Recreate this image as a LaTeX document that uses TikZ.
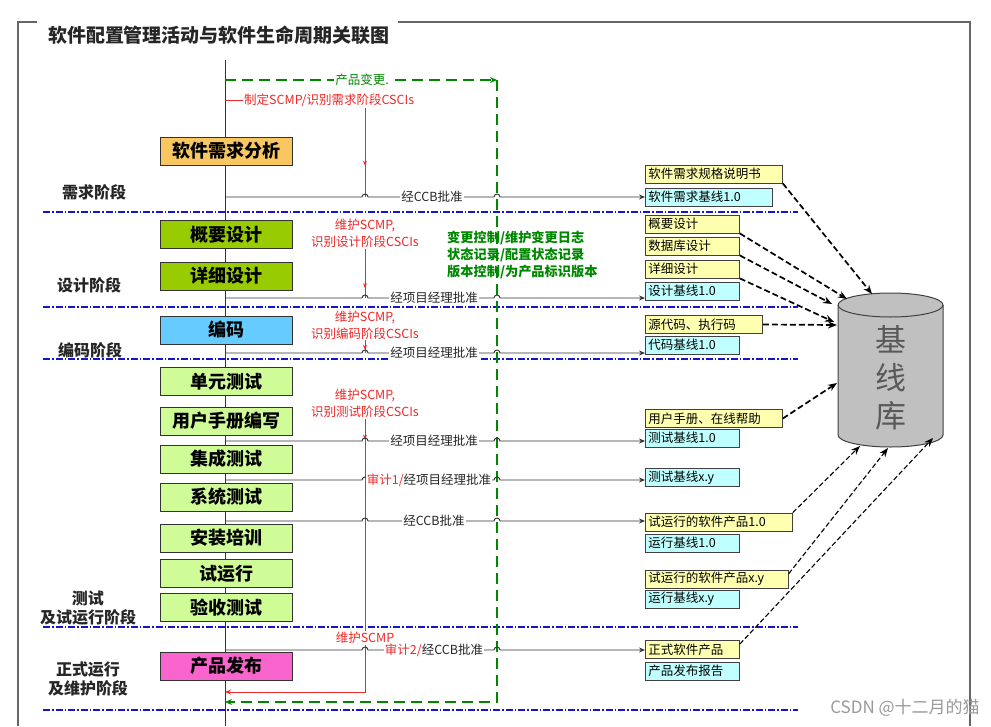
\documentclass[tikz,border=0pt]{standalone}
\usepackage{fontspec}
\setmainfont{Noto Sans CJK SC}
\usetikzlibrary{arrows.meta,decorations.markings}

\definecolor{reqorange}{RGB}{249,199,98}
\definecolor{desgreen}{RGB}{153,204,0}
\definecolor{codeblue}{RGB}{102,204,255}
\definecolor{testgreen}{RGB}{208,252,152}
\definecolor{relpink}{RGB}{250,100,205}
\definecolor{docyellow}{RGB}{255,255,176}
\definecolor{blcyan}{RGB}{192,255,255}
\definecolor{scmred}{RGB}{240,40,40}
\definecolor{cmgreen}{RGB}{0,135,0}
\definecolor{stageblue}{RGB}{20,20,200}
\definecolor{dbgray}{RGB}{192,192,192}

\tikzset{
    frame/.style={draw=black!60, line width=1.5pt},
    mainline/.style={draw=black!80, line width=0.9pt},
    stageline/.style={draw=stageblue, line width=1.5pt, dash pattern=on 7pt off 2pt on 1.5pt off 2pt},
    cmline/.style={draw=cmgreen, line width=2.2pt, dash pattern=on 11pt off 6pt},
    scmline/.style={draw=scmred, line width=0.9pt},
    flow/.style={draw=black!80, line width=0.9pt, -{Stealth[length=6pt,width=5pt]}},
    midarrow/.style={postaction={decorate}, decoration={markings, mark=at position #1 with {\arrow{Stealth[length=5pt,width=4pt]}}}},
    phase/.style={draw=black!80, line width=1pt, minimum width=132pt, minimum height=28pt, inner sep=0pt,
        font=\fontsize{18}{20}\selectfont\bfseries},
    artifact/.style={draw=black!75, line width=0.8pt, minimum height=18pt, inner xsep=3pt, inner ysep=0pt,
        anchor=west, text width=#1, font=\fontsize{12.5}{14}\selectfont},
    stage/.style={align=center, inner sep=0pt, text=black!85, font=\fontsize{16}{19}\selectfont\bfseries},
    approval/.style={fill=white, inner sep=1pt, text=black!85, font=\fontsize{12.5}{14}\selectfont},
    scmtext/.style={fill=white, inner sep=1pt, align=center, text=scmred, font=\fontsize{12.5}{17}\selectfont},
    todb/.style={draw=black, line width=1.7pt, dash pattern=on 6pt off 3pt, -{Stealth[length=9pt,width=7pt]}},
    todbthin/.style={todb, line width=1.1pt, dash pattern=on 5pt off 2.5pt}
}

\newcommand\approveline[2]{%
    \draw[flow] (#1) -- (#1 -| rhop) arc[start angle=180, end angle=0, radius=3pt]
        -- (#1 -| ghop) arc[start angle=180, end angle=0, radius=3pt] -- (#2.west |- #1);}

\begin{document}
\begin{tikzpicture}[x=1pt, y=-1pt]
    \useasboundingbox (0,0) rectangle (991,726);

    \draw[frame] (37,22) -- (18,22) -- (18,726);
    \draw[frame] (398,22) -- (970,22) -- (970,726);
    \node[text=black!85, font=\fontsize{19}{20}\selectfont\bfseries] (title) at (219,35) {软件配置管理活动与软件生命周期关联图};

    \foreach \y in {212,307,359,627,710}
        \draw[stageline] (43,\y) -- (798,\y);

    \coordinate (top) at (225,60);
    \coordinate (bottom) at (225,726);
    \draw[mainline] (top) -- (bottom);

    \coordinate (rvert) at (365,0);
    \coordinate (rhop) at (362,0);
    \coordinate (ghop) at (494,0);
    \coordinate (a1) at (225,197);
    \coordinate (a2) at (225,298);
    \coordinate (a3) at (225,353);
    \coordinate (a4) at (225,441);
    \coordinate (a5) at (225,480);
    \coordinate (a6) at (225,521);
    \coordinate (a7) at (225,650);

    \coordinate (g0) at (225,80);
    \coordinate (g1) at (497,80);
    \coordinate (g2) at (497,702);
    \coordinate (g3) at (225,702);
    \draw[cmline, -{Stealth[length=7pt,width=6pt]}] (g0) -- (g1);
    \draw[cmline, -{Stealth[length=7pt,width=6pt]}] (g1) -- (g2) -- (g3);
    \node[fill=white, inner sep=1pt, text=cmgreen, font=\fontsize{12.5}{14}\selectfont] (change) at (362,80) {产品变更.};

    \coordinate (r0) at (225,100);
    \node[scmtext, anchor=west] (plan) at (243,100) {制定SCMP/识别需求阶段CSCIs};
    \draw[scmline] (r0) -- (plan.west);
    \draw[scmline, midarrow=0.65] (plan.south -| rvert) -- (a1 -| rvert);
    \node[scmtext] (keep1) at (365,233.5) {维护SCMP,\\识别设计阶段CSCIs};
    \draw[scmline, midarrow=0.8] (keep1.south) -- (a2 -| rvert);
    \node[scmtext] (keep2) at (365,325) {维护SCMP,\\识别编码阶段CSCIs};
    \draw[scmline, midarrow=0.75] (keep2.south) -- (a3 -| rvert);
    \node[scmtext] (keep3) at (365,403.5) {维护SCMP,\\识别测试阶段CSCIs};
    \coordinate (rcorner) at (365,692);
    \coordinate (rend) at (225,692);
    \draw[scmline, midarrow=0.05, -{Stealth[length=6pt,width=5pt]}] (keep3.south) -- (rcorner) -- (rend);
    \node[scmtext] (keep4) at (365,638) {维护SCMP};

    \node[phase, fill=reqorange] (req) at (226,151) {软件需求分析};
    \node[phase, fill=desgreen] (hld) at (226,234.5) {概要设计};
    \node[phase, fill=desgreen] (dd) at (226,276) {详细设计};
    \node[phase, fill=codeblue] (code) at (226,330) {编码};
    \node[phase, fill=testgreen] (ut) at (226,381.5) {单元测试};
    \node[phase, fill=testgreen] (manual) at (226,421) {用户手册编写};
    \node[phase, fill=testgreen] (it) at (226,459) {集成测试};
    \node[phase, fill=testgreen] (st) at (226,497) {系统测试};
    \node[phase, fill=testgreen] (train) at (226,538) {安装培训};
    \node[phase, fill=testgreen] (trial) at (226,573.5) {试运行};
    \node[phase, fill=testgreen] (accept) at (226,607.5) {验收测试};
    \node[phase, fill=relpink] (release) at (226,666) {产品发布};

    \node[stage] (reqstage) at (94,192) {需求阶段};
    \node[stage] (desstage) at (89,285) {设计阶段};
    \node[stage] (codestage) at (90,350) {编码阶段};
    \node[stage] (teststage) at (88,608) {测试\\及试运行阶段};
    \node[stage] (opstage) at (88,678.5) {正式运行\\及维护阶段};

    \node[artifact=131pt, fill=docyellow] (spec) at (645,174) {软件需求规格说明书};
    \node[artifact=121pt, fill=blcyan] (reqbl) at (645,197) {软件需求基线1.0};
    \node[artifact=88pt, fill=docyellow] (hldoc) at (645,224) {概要设计};
    \node[artifact=88pt, fill=docyellow] (dbdoc) at (645,246) {数据库设计};
    \node[artifact=88pt, fill=docyellow] (ddoc) at (645,269) {详细设计};
    \node[artifact=88pt, fill=blcyan] (desbl) at (645,291) {设计基线1.0};
    \node[artifact=111pt, fill=docyellow] (src) at (645,324.5) {源代码、执行码};
    \node[artifact=88pt, fill=blcyan] (codebl) at (645,345) {代码基线1.0};
    \node[artifact=131pt, fill=docyellow] (umdoc) at (645,418.5) {用户手册、在线帮助};
    \node[artifact=88pt, fill=blcyan] (testbl) at (645,438) {测试基线1.0};
    \node[artifact=88pt, fill=blcyan] (testxy) at (645,477.5) {测试基线x.y};
    \node[artifact=141pt, fill=docyellow] (trialprod) at (645,522) {试运行的软件产品1.0};
    \node[artifact=88pt, fill=blcyan] (runbl) at (645,543) {运行基线1.0};
    \node[artifact=137pt, fill=docyellow] (trialxy) at (645,579) {试运行的软件产品x.y};
    \node[artifact=88pt, fill=blcyan] (runxy) at (645,599) {运行基线x.y};
    \node[artifact=88pt, fill=docyellow] (formal) at (645,649.5) {正式软件产品};
    \node[artifact=88pt, fill=blcyan] (relrpt) at (645,671) {产品发布报告};

    \approveline{a1}{reqbl}
    \approveline{a2}{desbl}
    \approveline{a3}{codebl}
    \approveline{a4}{testbl}
    \approveline{a5}{testxy}
    \approveline{a6}{trialprod}
    \approveline{a7}{formal}
    \node[approval] (ok1) at (432,197) {经CCB批准};
    \node[approval] (ok2) at (434,298) {经项目经理批准};
    \node[approval] (ok3) at (434,353) {经项目经理批准};
    \node[approval] (ok4) at (434,441) {经项目经理批准};
    \node[approval] (ok5) at (429,480) {\textcolor{scmred}{审计1/}经项目经理批准};
    \node[approval] (ok6) at (434,521) {经CCB批准};
    \node[approval] (ok7) at (434,650) {\textcolor{scmred}{审计2/}经CCB批准};

    \node[anchor=west, align=left, inner sep=0pt, text=cmgreen, font=\fontsize{13.2}{17}\selectfont\bfseries] (cmtext) at (447,255)
        {变更控制/维护变更日志\\状态记录/配置状态记录\\版本控制/为产品标识版本};

    \fill[dbgray] (838,305) -- (838,435) arc[start angle=180, end angle=360, x radius=52.5pt, y radius=12pt]
        -- (943,305) arc[start angle=0, end angle=180, x radius=52.5pt, y radius=12pt] -- cycle;
    \draw[black!75, line width=1pt] (838,305) -- (838,435) arc[start angle=180, end angle=360, x radius=52.5pt, y radius=12pt]
        -- (943,305) arc[start angle=0, end angle=180, x radius=52.5pt, y radius=12pt] -- cycle;
    \draw[black!75, line width=1pt] (838,305) arc[start angle=180, end angle=360, x radius=52.5pt, y radius=12pt];
    \node[align=center, inner sep=0pt, text=black!65, font=\fontsize{31}{38}\selectfont] (db) at (890.5,378) {基\\线\\库};

    \coordinate (dbA) at (872,294);
    \coordinate (dbB) at (847,299);
    \coordinate (dbC) at (832,304);
    \coordinate (dbD) at (834,322);
    \coordinate (dbE) at (837,325);
    \coordinate (dbF) at (837,383);
    \coordinate (dbG) at (860,446);
    \coordinate (dbH) at (888,448);
    \coordinate (dbI) at (933,438);
    \draw[todb] (spec.south east) -- (dbA);
    \draw[todb] (hldoc.south east) -- (dbB);
    \draw[todb] (dbdoc.south east) -- (dbC);
    \draw[todb] (ddoc.south east) -- (dbD);
    \draw[todb] (src.east) -- (dbE);
    \draw[todb] (umdoc.east) -- (dbF);
    \draw[todbthin] (trialprod.north east) -- (dbG);
    \draw[todbthin] ([yshift=-4pt]trialxy.north east) -- (dbH);
    \draw[todbthin] ([yshift=-4pt]formal.north east) -- (dbI);

    \node[text=black!40, font=\fontsize{17}{18}\selectfont] (mark) at (905,708) {CSDN @十二月的猫};
\end{tikzpicture}
\end{document}
